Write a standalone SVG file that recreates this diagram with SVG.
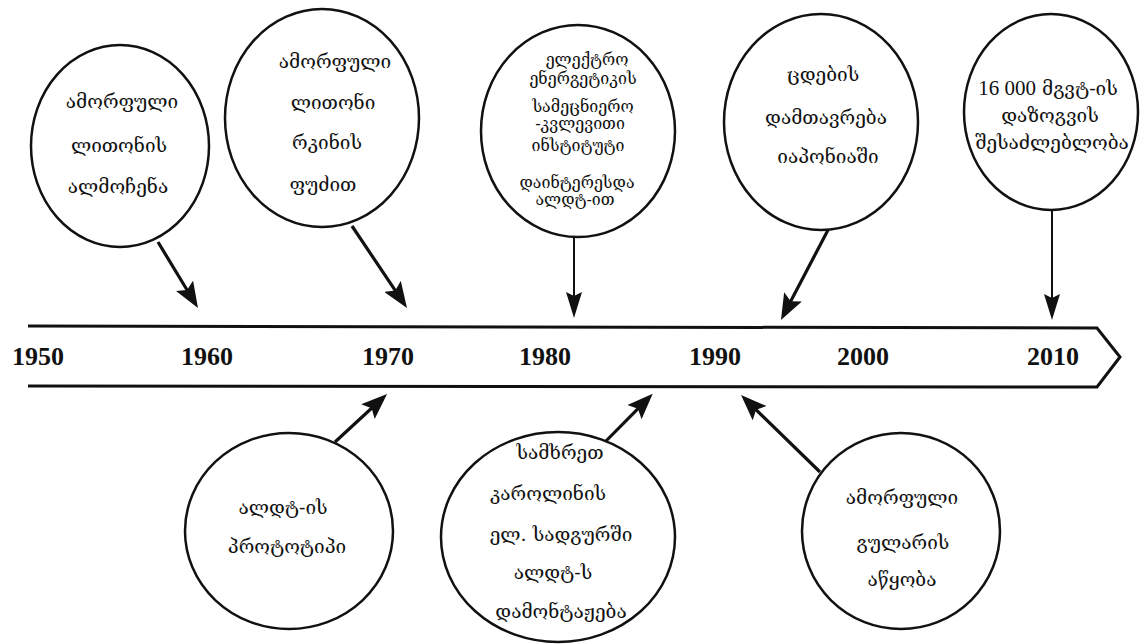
<svg xmlns="http://www.w3.org/2000/svg" width="1141" height="644" viewBox="0 0 1141 644">
<style>
.node ellipse{fill:#fff;stroke:#111;stroke-width:2.5}
.t{font-family:"DejaVu Serif","DejaVu Sans",serif;font-size:19px;fill:#111;text-anchor:middle}
.s{font-size:16px}
.num{font-family:"Liberation Serif",serif;font-size:21px}
.yr{font-family:"Liberation Serif",serif;font-size:26px;font-weight:bold;fill:#111;text-anchor:middle}
.c{stroke:#111;fill:none}
.thick{stroke-width:3.2}
.thin{stroke-width:2}
</style>
<defs>
<marker id="ah" markerUnits="userSpaceOnUse" markerWidth="26" markerHeight="20" refX="16" refY="10" orient="auto"><path d="M0,0 L26,10 L0,20 L5,10 z" fill="#111"/></marker>
<marker id="ahs" markerUnits="userSpaceOnUse" markerWidth="26" markerHeight="16" refX="16" refY="8" orient="auto"><path d="M0,0 L26,8 L0,16 L4,8 z" fill="#111"/></marker>
</defs>
<rect width="1141" height="644" fill="#fff"/>
<g id="timeline">
<path d="M28,326 L1097,328 L1120,357 L1097,387 L28,386" fill="none" stroke="#111" stroke-width="3"/>
<text class="yr" x="38" y="365">1950</text>
<text class="yr" x="207" y="365">1960</text>
<text class="yr" x="388" y="365">1970</text>
<text class="yr" x="545" y="365">1980</text>
<text class="yr" x="715" y="365">1990</text>
<text class="yr" x="863" y="365">2000</text>
<text class="yr" x="1053" y="365">2010</text>
</g>
<g id="connectors">
<line class="c thick" x1="158" y1="242" x2="192.8" y2="299.5" marker-end="url(#ah)"/>
<line class="c thick" x1="352" y1="226" x2="401.4" y2="299.7" marker-end="url(#ah)"/>
<line class="c thin" x1="574" y1="237" x2="574" y2="308" marker-end="url(#ahs)"/>
<line class="c thick" x1="828" y1="230" x2="785.6" y2="311.1" marker-end="url(#ah)"/>
<line class="c thin" x1="1052" y1="210" x2="1052" y2="310" marker-end="url(#ahs)"/>
<line class="c thick" x1="335" y1="442" x2="379.7" y2="400.8" marker-end="url(#ah)"/>
<line class="c thick" x1="605" y1="442" x2="645.7" y2="400.8" marker-end="url(#ah)"/>
<line class="c thick" x1="820" y1="472" x2="748.2" y2="402" marker-end="url(#ah)"/>
</g>
<g id="n1" class="node">
<ellipse cx="120" cy="146" rx="89" ry="101"/>
<text class="t" x="122" y="108">ამორფული</text>
<text class="t" x="119" y="152">ლითონის</text>
<text class="t" x="118" y="193">ალმოჩენა</text>
</g>
<g id="n2" class="node">
<ellipse cx="322" cy="118" rx="97" ry="109"/>
<text class="t" x="335" y="68">ამორფული</text>
<text class="t" x="333" y="109">ლითონი</text>
<text class="t" x="327" y="149">რკინის</text>
<text class="t" x="323" y="191">ფუძით</text>
</g>
<g id="n3" class="node">
<ellipse cx="578" cy="131" rx="97" ry="106"/>
<text class="t s" x="587" y="65">ელექტრო</text>
<text class="t s" x="583" y="84">ენერგეტიკის</text>
<text class="t s" x="583" y="112">სამეცნიერო</text>
<text class="t s" x="580" y="129">-კვლევითი</text>
<text class="t s" x="578" y="151">ინსტიტუტი</text>
<text class="t s" x="577" y="188">დაინტერესდა</text>
<text class="t s" x="575" y="205">ალდტ-ით</text>
</g>
<g id="n4" class="node">
<ellipse cx="821" cy="122" rx="97" ry="108"/>
<text class="t" x="823" y="81">ცდების</text>
<text class="t" x="826" y="124">დამთავრება</text>
<text class="t" x="828" y="163">იაპონიაში</text>
</g>
<g id="n5" class="node">
<ellipse cx="1051" cy="112" rx="87" ry="98"/>
<text class="t" x="1048" y="95"><tspan class="num">16 000</tspan> მგვტ-ის</text>
<text class="t" x="1050" y="122">დაზოგვის</text>
<text class="t" x="1052" y="149">შესაძლებლობა</text>
</g>
<g id="n6" class="node">
<ellipse cx="289" cy="531" rx="104" ry="98"/>
<text class="t" x="283" y="514">ალდტ-ის</text>
<text class="t" x="287" y="553">პროტოტიპი</text>
</g>
<g id="n7" class="node">
<ellipse cx="558" cy="537" rx="117" ry="105"/>
<text class="t" x="560" y="459">სამხრეთ</text>
<text class="t" x="548" y="500">კაროლინის</text>
<text class="t" x="561" y="541">ელ. სადგურში</text>
<text class="t" x="553" y="579">ალდტ-ს</text>
<text class="t" x="561" y="618">დამონტაჟება</text>
</g>
<g id="n8" class="node">
<ellipse cx="901" cy="531" rx="99" ry="98"/>
<text class="t" x="902" y="504">ამორფული</text>
<text class="t" x="903" y="549">გულარის</text>
<text class="t" x="902" y="586">აწყობა</text>
</g>
</svg>
